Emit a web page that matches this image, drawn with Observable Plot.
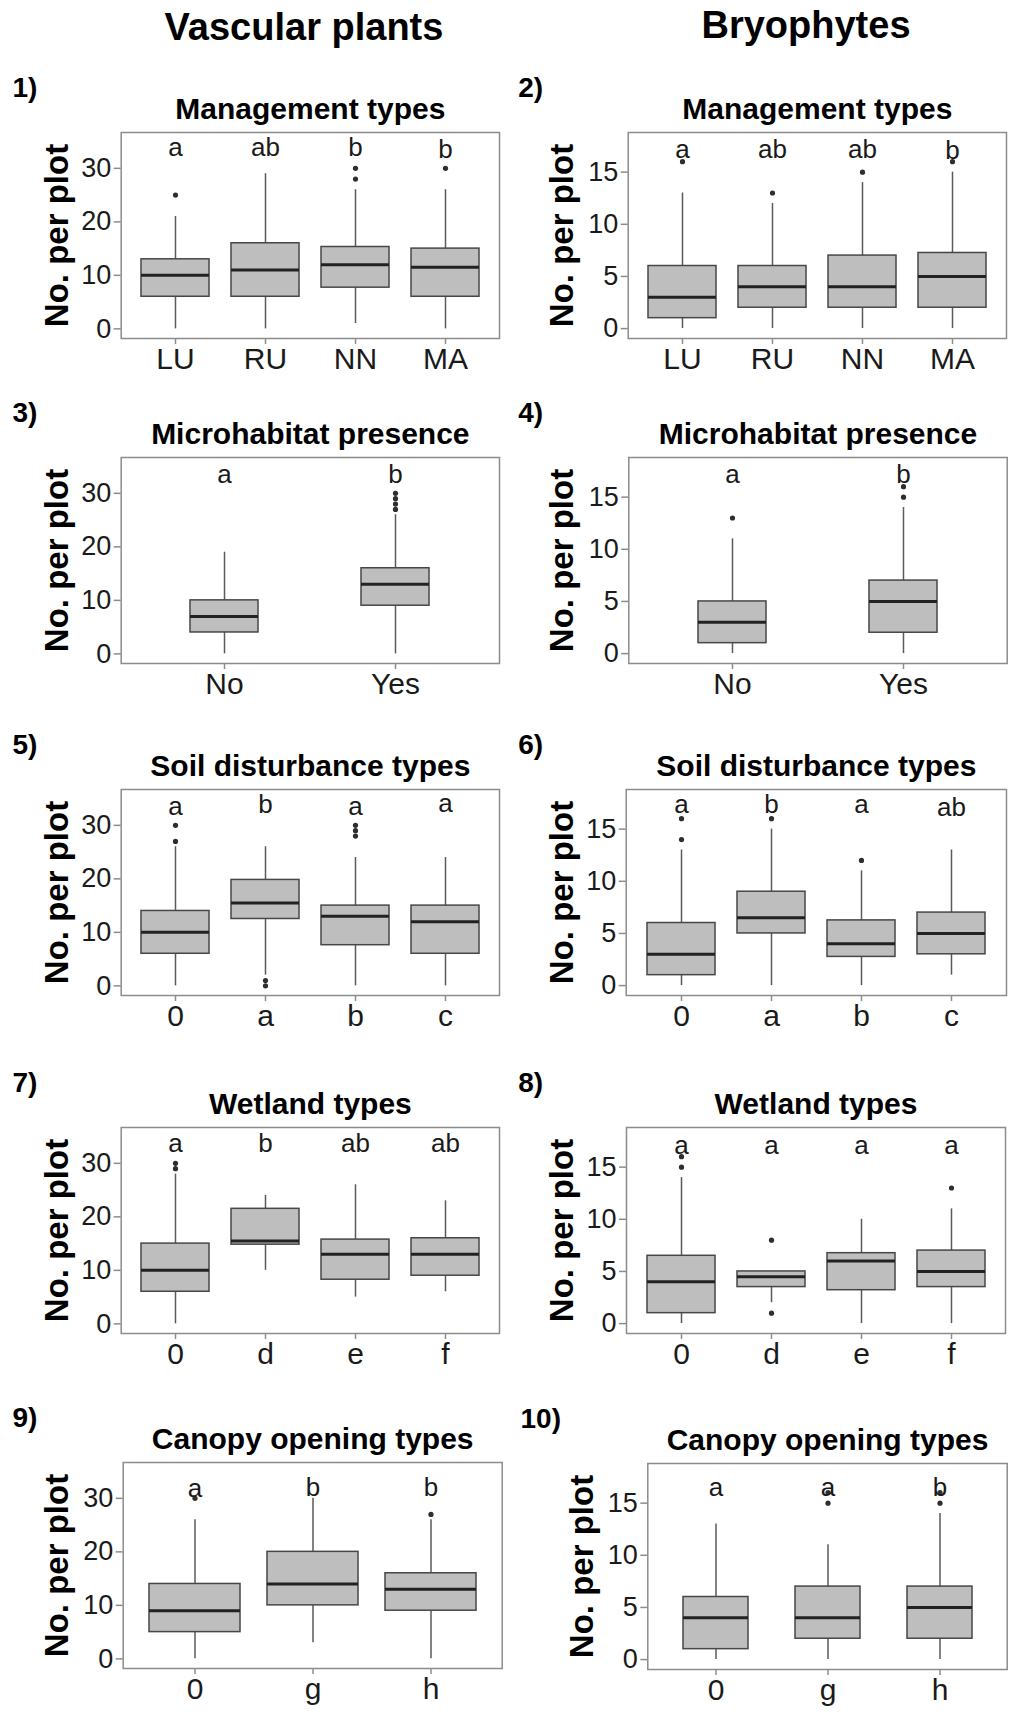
<!DOCTYPE html>
<html>
<head>
<meta charset="utf-8">
<script src="https://cdn.jsdelivr.net/npm/d3@7"></script>
<script src="https://cdn.jsdelivr.net/npm/@observablehq/plot@0.6"></script>
<style>
html, body { margin: 0; padding: 0; background: #fff; }
#root { position: relative; width: 1009px; height: 1716px; background: #fff; overflow: hidden;
        font-family: Arial, "Liberation Sans", sans-serif; }
.hdr { position: absolute; font-weight: bold; font-size: 38px; line-height: 38px; white-space: nowrap;
       transform: translateX(-50%); color: #000; }
.panel { position: absolute; }
</style>
</head>
<body>
<div id="root"></div>
<script>
// ---------- categories ----------
const mgmtCats   = ["LU", "RU", "NN", "MA"];
const microCats  = ["No", "Yes"];
const soilCats   = ["0", "a", "b", "c"];
const wetCats    = ["0", "d", "e", "f"];
const canopyCats = ["0", "g", "h"];

// ---------- tick labels ----------
const vascTicks = [0, 10, 20, 30];
const bryoTicks = [0, 5, 10, 15];

// ---------- titles ----------
const columnTitles = ["Vascular plants", "Bryophytes"];
const panelTitles = ["Management types", "Microhabitat presence", "Soil disturbance types", "Wetland types", "Canopy opening types"];
const panelNumbers = ["1)", "2)", "3)", "4)", "5)", "6)", "7)", "8)", "9)", "10)"];
const yLabel = "No. per plot";

// ---------- Panel 1: vascular plants, management ----------
const p1Lo  = [0, 0, 1, 0];
const p1Q1  = [6, 6, 7.7, 6];
const p1Med = [10, 11, 12, 11.5];
const p1Q3  = [13, 16, 15.3, 15];
const p1Hi  = [21, 29, 26, 26];
const p1Out = [["LU", 25], ["NN", 28], ["NN", 30], ["MA", 30]];
const p1Letters = ["a", "ab", "b", "b"];
const p1LetterY = [33.9, 33.9, 33.9, 33.4];

// ---------- Panel 2: bryophytes, management ----------
const p2Lo  = [0, 0, 0, 0];
const p2Q1  = [1, 2, 2, 2];
const p2Med = [3, 4, 4, 5];
const p2Q3  = [6, 6, 7, 7.25];
const p2Hi  = [13, 12, 14, 15];
const p2Out = [["LU", 16], ["RU", 13], ["NN", 15], ["MA", 16]];
const p2Letters = ["a", "ab", "ab", "b"];
const p2LetterY = [17.2, 17.2, 17.2, 17.1];

// ---------- Panel 3: vascular plants, microhabitat ----------
const p3Lo  = [0, 0];
const p3Q1  = [4, 9];
const p3Med = [7, 13];
const p3Q3  = [10, 16];
const p3Hi  = [19, 26];
const p3Out = [["Yes", 27], ["Yes", 28], ["Yes", 29], ["Yes", 30]];
const p3Letters = ["a", "b"];
const p3LetterY = [33.4, 33.4];

// ---------- Panel 4: bryophytes, microhabitat ----------
const p4Lo  = [0, 0];
const p4Q1  = [1, 2];
const p4Med = [3, 5];
const p4Q3  = [5, 7];
const p4Hi  = [11, 14];
const p4Out = [["No", 13], ["Yes", 15], ["Yes", 16]];
const p4Letters = ["a", "b"];
const p4LetterY = [17.2, 17.2];

// ---------- Panel 5: vascular plants, soil disturbance ----------
const p5Lo  = [0, 2, 0, 0];
const p5Q1  = [6, 12.5, 7.6, 6];
const p5Med = [10, 15.5, 13, 12];
const p5Q3  = [14, 19.8, 15, 15];
const p5Hi  = [26, 26, 24, 24];
const p5Out = [["0", 27], ["0", 30], ["a", 0], ["a", 1], ["b", 28], ["b", 29], ["b", 30]];
const p5Letters = ["a", "b", "a", "a"];
const p5LetterY = [33.5, 33.9, 33.5, 34.0];

// ---------- Panel 6: bryophytes, soil disturbance ----------
const p6Lo  = [0, 0, 0, 1];
const p6Q1  = [1, 5, 2.75, 3];
const p6Med = [3, 6.5, 4, 5];
const p6Q3  = [6, 9, 6.25, 7];
const p6Hi  = [13, 15, 11, 13];
const p6Out = [["0", 14], ["0", 16], ["a", 16], ["b", 12]];
const p6Letters = ["a", "b", "a", "ab"];
const p6LetterY = [17.3, 17.35, 17.3, 17.1];

// ---------- Panel 7: vascular plants, wetland ----------
const p7Lo  = [0, 10, 5, 6];
const p7Q1  = [6, 14.8, 8.25, 9];
const p7Med = [10, 15.5, 13, 13];
const p7Q3  = [15, 21.5, 15.75, 16];
const p7Hi  = [28, 24, 26, 23];
const p7Out = [["0", 29], ["0", 30]];
const p7Letters = ["a", "b", "ab", "ab"];
const p7LetterY = [33.7, 33.7, 33.7, 33.7];

// ---------- Panel 8: bryophytes, wetland ----------
const p8Lo  = [0, 2, 0, 0];
const p8Q1  = [1, 3.5, 3.2, 3.5];
const p8Med = [4, 4.5, 6, 5];
const p8Q3  = [6.5, 5, 6.75, 7];
const p8Hi  = [14, 5, 10, 11];
const p8Out = [["0", 15], ["0", 16], ["d", 1], ["d", 8], ["f", 13]];
const p8Letters = ["a", "a", "a", "a"];
const p8LetterY = [17.1, 17.1, 17.1, 17.1];

// ---------- Panel 9: vascular plants, canopy opening ----------
const p9Lo  = [0, 3, 0];
const p9Q1  = [5, 10, 9];
const p9Med = [9, 14, 13];
const p9Q3  = [14, 20, 16];
const p9Hi  = [26, 30, 26];
const p9Out = [["0", 30], ["h", 27]];
const p9Letters = ["a", "b", "b"];
const p9LetterY = [31.8, 32.0, 32.0];

// ---------- Panel 10: bryophytes, canopy opening ----------
const p10Lo  = [0, 0, 0];
const p10Q1  = [1, 2, 2];
const p10Med = [4, 4, 5];
const p10Q3  = [6, 7, 7];
const p10Hi  = [13, 11, 14];
const p10Out = [["g", 15], ["g", 16], ["h", 15], ["h", 16]];
const p10Letters = ["a", "a", "b"];
const p10LetterY = [16.5, 16.5, 16.5];

// ---------- panel assembly ----------
const vascDomain = [-1.8, 36.7];
const bryoDomain = [-0.95, 18.8];

const panels = [
  {num: panelNumbers[0], title: panelTitles[0], cats: mgmtCats, lo: p1Lo, q1: p1Q1, med: p1Med, q3: p1Q3, hi: p1Hi, out: p1Out, letters: p1Letters, ly: p1LetterY, domain: vascDomain, ticks: vascTicks,
   left: 0, frameTop: 132, ml: 120.7, fw: 378.3, numX: 12, ylDx: -64, boxW: 0.75},
  {num: panelNumbers[1], title: panelTitles[0], cats: mgmtCats, lo: p2Lo, q1: p2Q1, med: p2Med, q3: p2Q3, hi: p2Hi, out: p2Out, letters: p2Letters, ly: p2LetterY, domain: bryoDomain, ticks: bryoTicks,
   left: 505, frameTop: 132, ml: 122.7, fw: 378.3, numX: 12.7, ylDx: -66, boxW: 0.75},
  {num: panelNumbers[2], title: panelTitles[1], cats: microCats, lo: p3Lo, q1: p3Q1, med: p3Med, q3: p3Q3, hi: p3Hi, out: p3Out, letters: p3Letters, ly: p3LetterY, domain: vascDomain, ticks: vascTicks,
   left: 0, frameTop: 457, ml: 120.7, fw: 378.3, numX: 12, ylDx: -64, boxW: 0.4},
  {num: panelNumbers[3], title: panelTitles[1], cats: microCats, lo: p4Lo, q1: p4Q1, med: p4Med, q3: p4Q3, hi: p4Hi, out: p4Out, letters: p4Letters, ly: p4LetterY, domain: bryoDomain, ticks: bryoTicks,
   left: 505, frameTop: 457, ml: 123.3, fw: 378.4, numX: 12.7, ylDx: -66, boxW: 0.4},
  {num: panelNumbers[4], title: panelTitles[2], cats: soilCats, lo: p5Lo, q1: p5Q1, med: p5Med, q3: p5Q3, hi: p5Hi, out: p5Out, letters: p5Letters, ly: p5LetterY, domain: vascDomain, ticks: vascTicks,
   left: 0, frameTop: 789, ml: 120.7, fw: 378.3, numX: 12, ylDx: -64, boxW: 0.75},
  {num: panelNumbers[5], title: panelTitles[2], cats: soilCats, lo: p6Lo, q1: p6Q1, med: p6Med, q3: p6Q3, hi: p6Hi, out: p6Out, letters: p6Letters, ly: p6LetterY, domain: bryoDomain, ticks: bryoTicks,
   left: 505, frameTop: 789, ml: 120.7, fw: 380.3, numX: 12.7, ylDx: -64, boxW: 0.75},
  {num: panelNumbers[6], title: panelTitles[3], cats: wetCats, lo: p7Lo, q1: p7Q1, med: p7Med, q3: p7Q3, hi: p7Hi, out: p7Out, letters: p7Letters, ly: p7LetterY, domain: vascDomain, ticks: vascTicks,
   left: 0, frameTop: 1127, ml: 120.7, fw: 378.3, numX: 12, ylDx: -64, boxW: 0.75},
  {num: panelNumbers[7], title: panelTitles[3], cats: wetCats, lo: p8Lo, q1: p8Q1, med: p8Med, q3: p8Q3, hi: p8Hi, out: p8Out, letters: p8Letters, ly: p8LetterY, domain: bryoDomain, ticks: bryoTicks,
   left: 505, frameTop: 1127, ml: 121, fw: 379, numX: 12.7, ylDx: -64, boxW: 0.75},
  {num: panelNumbers[8], title: panelTitles[4], cats: canopyCats, lo: p9Lo, q1: p9Q1, med: p9Med, q3: p9Q3, hi: p9Hi, out: p9Out, letters: p9Letters, ly: p9LetterY, domain: vascDomain, ticks: vascTicks,
   left: 0, frameTop: 1462, ml: 122.7, fw: 379, numX: 12, ylDx: -66, boxW: 0.77},
  {num: panelNumbers[9], title: panelTitles[4], cats: canopyCats, lo: p10Lo, q1: p10Q1, med: p10Med, q3: p10Q3, hi: p10Hi, out: p10Out, letters: p10Letters, ly: p10LetterY, domain: bryoDomain, ticks: bryoTicks,
   left: 505, frameTop: 1463, ml: 142.3, fw: 359.4, numX: 15, ylDx: -65.6, boxW: 0.58}
];

const root = document.getElementById("root");

// column headers
[[columnTitles[0], 304, 7.8], [columnTitles[1], 806, 5.8]].forEach(([t, cx, top]) => {
  const d = document.createElement("div");
  d.className = "hdr";
  d.textContent = t;
  d.style.left = cx + "px";
  d.style.top = top + "px";
  root.appendChild(d);
});

const FONT = "Arial, 'Liberation Sans', sans-serif";

panels.forEach(cfg => {
  const rows = cfg.cats.map((c, i) => ({
    cat: c, lo: cfg.lo[i], q1: cfg.q1[i], med: cfg.med[i], q3: cfg.q3[i], hi: cfg.hi[i],
    letter: cfg.letters[i], ly: cfg.ly[i]
  }));
  const outs = cfg.out.map(([cat, v]) => ({cat, v}));
  const pi = 1 - cfg.boxW;
  const po = 0.1 + pi / 2;
  const width = 504, mt = 70, fh = 206, mb = 45;

  const chart = Plot.plot({
    width,
    height: mt + fh + mb,
    marginTop: mt,
    marginBottom: mb,
    marginLeft: cfg.ml,
    marginRight: width - cfg.ml - cfg.fw,
    style: {fontFamily: FONT, background: "transparent", overflow: "visible", color: "#1a1a1a"},
    x: {type: "band", domain: cfg.cats, paddingInner: pi, paddingOuter: po, align: 0.5, label: null},
    y: {domain: cfg.domain, label: null},
    marks: [
      Plot.ruleX(rows, {x: "cat", y1: "lo", y2: "hi", stroke: "#5a5a5a", strokeWidth: 1.5}),
      Plot.barY(rows, {x: "cat", y1: "q1", y2: "q3", fill: "#bebebe", stroke: "#474747", strokeWidth: 1.5, inset: 0}),
      Plot.tickY(rows, {x: "cat", y: "med", stroke: "#222", strokeWidth: 3}),
      Plot.dot(outs, {x: "cat", y: "v", r: 2.6, fill: "#2e2e2e", stroke: null}),
      Plot.text(rows, {x: "cat", y: "ly", text: "letter", fontSize: 26, fill: "#1a1a1a"}),
      Plot.frame({stroke: "#8c8c8c", strokeWidth: 1.5}),
      Plot.axisY({ticks: cfg.ticks, tickSize: 7, tickPadding: 3, fontSize: 27, stroke: "#8c8c8c", fill: "#1a1a1a", strokeWidth: 1.5, label: null}),
      Plot.axisX({tickSize: 6, tickPadding: 3, fontSize: 30, stroke: "#8c8c8c", fill: "#1a1a1a", strokeWidth: 1.5, label: null}),
      Plot.text([yLabel], {text: d => d, frameAnchor: "left", dx: cfg.ylDx, rotate: -90, textAnchor: "middle", lineAnchor: "middle", fontSize: 33, fontWeight: "bold", fill: "#000"}),
      Plot.text([cfg.title], {text: d => d, frameAnchor: "top", dy: -14, lineAnchor: "bottom", fontSize: 30, fontWeight: "bold", fill: "#000"}),
      Plot.text([cfg.num], {text: d => d, frameAnchor: "top-left", dx: cfg.numX - cfg.ml, dy: -35.5, lineAnchor: "bottom", textAnchor: "start", fontSize: 28, fontWeight: "bold", fill: "#000"})
    ]
  });
  const wrap = document.createElement("div");
  wrap.className = "panel";
  wrap.style.left = cfg.left + "px";
  wrap.style.top = (cfg.frameTop - mt) + "px";
  wrap.appendChild(chart);
  root.appendChild(wrap);
});
</script>
</body>
</html>
